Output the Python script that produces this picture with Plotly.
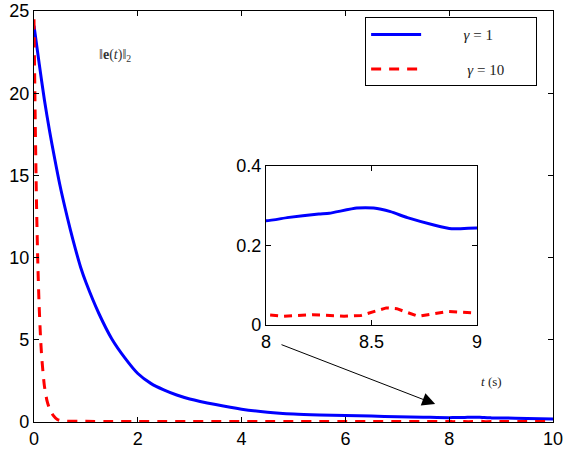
import plotly.graph_objects as go

# gamma = 1 series
t_g1 = [0, 0.1, 0.2, 0.3, 0.4, 0.5, 0.6, 0.7, 0.8, 0.9, 1.0, 1.25, 1.5, 1.75, 2.0, 2.25,
        2.5, 2.75, 3.0, 3.5, 4.0, 4.5, 5.0, 5.5, 6.0, 6.5, 7.0, 7.5, 8.0, 8.1, 8.25, 8.3,
        8.43, 8.51, 8.59, 8.67, 8.8, 8.88, 9.0, 9.5, 10.0]
e_g1 = [24.1, 21.8, 19.6, 17.7, 16.0, 14.4, 13.0, 11.7, 10.5, 9.4, 8.5, 6.6, 5.05, 3.9, 2.95, 2.35,
        1.95, 1.64, 1.40, 1.06, 0.78, 0.60, 0.49, 0.43, 0.39, 0.36, 0.32, 0.29, 0.262, 0.270, 0.279, 0.281,
        0.294, 0.294, 0.285, 0.270, 0.251, 0.242, 0.244, 0.22, 0.18]

# gamma = 10 series
t_g10 = [0, 0.025, 0.05, 0.075, 0.1, 0.125, 0.15, 0.2, 0.25, 0.3, 0.37, 0.45, 0.55, 1.0, 1.5,
         2.0, 2.5, 3.0, 3.5, 4.0, 4.5, 5.0, 5.5, 6.0, 6.5, 7.0, 7.5, 8.0, 8.08, 8.22, 8.37,
         8.45, 8.57, 8.62, 8.72, 8.86, 9.0, 9.5, 10.0]
e_g10 = [24.5, 18.0, 13.0, 9.5, 7.0, 5.2, 3.9, 2.2, 1.3, 0.8, 0.4, 0.15, 0.06, 0.04, 0.03,
         0.035, 0.03, 0.025, 0.03, 0.035, 0.03, 0.025, 0.03, 0.035, 0.03, 0.025, 0.03, 0.026, 0.022, 0.026, 0.022,
         0.024, 0.043, 0.041, 0.022, 0.034, 0.030, 0.03, 0.025]

main_xticks = [0, 2, 4, 6, 8, 10]
main_yticks = [0, 5, 10, 15, 20, 25]
inset_xticks = [8, 8.5, 9]
inset_yticks = [0, 0.2, 0.4]
inset_ytext = ["0", "0.2", "0.4"]

BLUE = "#0000ff"
RED = "#ff0000"
tickfont = dict(family="Liberation Sans, Arial, sans-serif", size=18, color="black")
NB = "\u00a0"

fig = go.Figure()
fig.add_trace(go.Scatter(x=t_g1, y=e_g1, mode="lines",
                         line=dict(color=BLUE, width=3, shape="spline", smoothing=0.8),
                         name=NB * 10 + "<i>γ</i> = 1", legendgroup="a"))
fig.add_trace(go.Scatter(x=t_g10, y=e_g10, mode="lines",
                         line=dict(color=RED, width=3, dash="10px,8px", shape="spline", smoothing=0.6),
                         name=NB * 11 + "<i>γ</i> = 10" + NB * 7, legendgroup="b"))
# inset
fig.add_trace(go.Scatter(x=t_g1, y=e_g1, mode="lines",
                         line=dict(color=BLUE, width=3, shape="spline", smoothing=0.5),
                         xaxis="x2", yaxis="y2", showlegend=False))
fig.add_trace(go.Scatter(x=t_g10, y=e_g10, mode="lines", line=dict(color=RED, width=3, dash="8px,6px"),
                         xaxis="x2", yaxis="y2", showlegend=False))

axis_common = dict(showgrid=False, zeroline=False, showline=True, linecolor="black", linewidth=1.3,
                   mirror="ticks", ticks="inside", ticklen=5, tickcolor="black", tickwidth=1,
                   tickfont=tickfont, automargin=False)

fig.update_layout(
    width=564, height=462,
    margin=dict(l=34, r=11, t=11, b=40),
    paper_bgcolor="white", plot_bgcolor="white",
    xaxis=dict(range=[0, 10], tickvals=main_xticks, domain=[0, 1], **axis_common),
    yaxis=dict(range=[0, 25], tickvals=main_yticks, domain=[0, 1], **axis_common),
    xaxis2=dict(range=[8, 9], tickvals=inset_xticks, domain=[0.447, 0.8536], anchor="y2", **axis_common),
    yaxis2=dict(range=[0, 0.4], tickvals=inset_yticks, ticktext=inset_ytext, domain=[0.236, 0.623],
                anchor="x2", **axis_common),
    showlegend=True,
    legend=dict(x=0.638, y=0.985, xanchor="left", yanchor="top", bordercolor="black", borderwidth=1,
                bgcolor="white", font=dict(family="Liberation Serif, serif", size=15, color="#222"),
                traceorder="grouped", tracegroupgap=12, itemwidth=50),
    annotations=[
        dict(x=1.56, y=22.3, xref="x", yref="y", text="‖<b>e</b>(<i>t</i>)‖<sub>2</sub>", showarrow=False,
             font=dict(family="Liberation Serif, serif", size=14, color="#333")),
        dict(x=8.82, y=2.45, xref="x", yref="y", text="<i>t</i> (s)", showarrow=False,
             font=dict(family="Liberation Serif, serif", size=13, color="#222")),
        dict(x=7.73, y=1.09, ax=4.74, ay=4.74, xref="x", yref="y", axref="x", ayref="y", text="",
             showarrow=True, arrowhead=2, arrowsize=2.6, arrowwidth=1, arrowcolor="black"),
    ],
)
fig.add_shape(type="rect", xref="x2 domain", yref="y2 domain", x0=0, x1=1, y0=0, y1=1,
              fillcolor="white", line=dict(width=0), layer="below")

fig.write_html("out.html")
